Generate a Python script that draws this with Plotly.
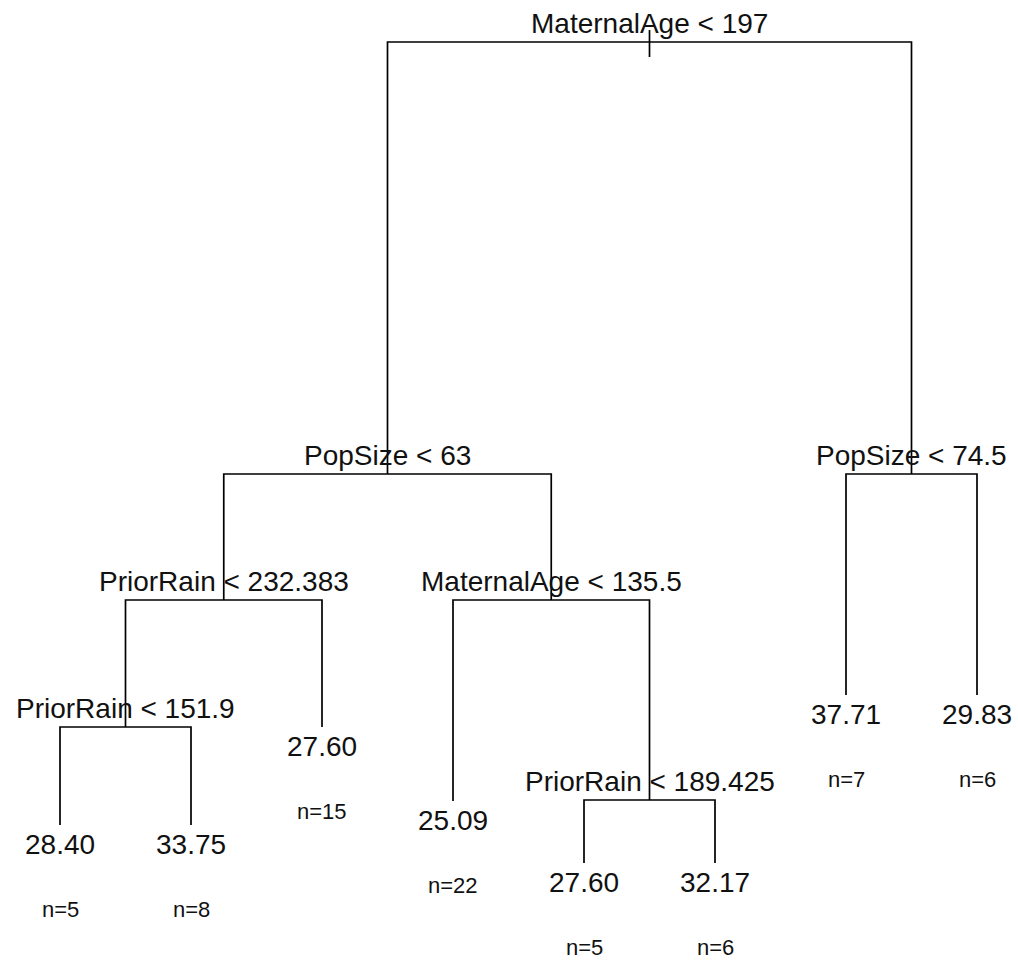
import plotly.graph_objects as go

# Tree structure (R 'tree' style node numbering)
node_id = [1, 2, 3, 4, 5, 8, 9, 16, 17, 10, 11, 22, 23, 6, 7]
node_parent = [0, 1, 1, 2, 2, 4, 4, 8, 8, 5, 5, 11, 11, 3, 3]
split_label = ["MaternalAge < 197", "PopSize < 63", "PopSize < 74.5",
               "PriorRain < 232.383", "MaternalAge < 135.5", "PriorRain < 151.9",
               "", "", "", "", "PriorRain < 189.425", "", "", "", ""]
leaf_value = ["", "", "", "", "", "", "27.60", "28.40", "33.75", "25.09", "",
              "27.60", "32.17", "37.71", "29.83"]
leaf_n = [0, 0, 0, 0, 0, 0, 15, 5, 8, 22, 0, 5, 6, 7, 6]
# node heights (deviance scale)
node_dev = [858, 426, 426, 300, 300, 173, 173, 75, 75, 99, 100, 37, 37, 205, 205]

# leaf order left to right
leaf_order = [16, 17, 9, 10, 22, 23, 6, 7]

idx = {nid: i for i, nid in enumerate(node_id)}
children = {nid: [] for nid in node_id}
for nid, par in zip(node_id, node_parent):
    if par:
        children[par].append(nid)
for k in children:
    children[k].sort()

xpos = {}
for i, nid in enumerate(leaf_order):
    xpos[nid] = i + 1.0


def getx(nid):
    if nid in xpos:
        return xpos[nid]
    ch = children[nid]
    xpos[nid] = sum(getx(c) for c in ch) / len(ch)
    return xpos[nid]


for nid in node_id:
    getx(nid)

lx, ly = [], []
for nid in node_id:
    ch = children[nid]
    if not ch:
        continue
    y0 = node_dev[idx[nid]]
    cl, cr = ch[0], ch[1]
    lx += [xpos[cl], xpos[cl], xpos[cr], xpos[cr], None]
    ly += [node_dev[idx[cl]], y0, y0, node_dev[idx[cr]], None]

# root stub
root = node_id[0]
lx += [xpos[root], xpos[root], None]
ly += [node_dev[idx[root]] + 12, node_dev[idx[root]] - 15, None]

fig = go.Figure()
fig.add_trace(go.Scatter(x=lx, y=ly, mode="lines",
                         line=dict(color="black", width=1.7),
                         hoverinfo="skip", showlegend=False))

FONT = "Liberation Sans, Arial, sans-serif"
ann = []
for i, nid in enumerate(node_id):
    x = xpos[nid]
    y = node_dev[i]
    if split_label[i]:
        ann.append(dict(x=x, y=y, text=split_label[i], showarrow=False,
                        xanchor="center", yanchor="bottom", yshift=1,
                        font=dict(family=FONT, size=28, color="#111")))
    if leaf_value[i]:
        ann.append(dict(x=x, y=y, text=leaf_value[i], showarrow=False,
                        xanchor="center", yanchor="middle", yshift=-19,
                        font=dict(family=FONT, size=28, color="#111")))
        ann.append(dict(x=x, y=y, text="n=%d" % leaf_n[i], showarrow=False,
                        xanchor="center", yanchor="middle", yshift=-84,
                        font=dict(family=FONT, size=22, color="#111")))

W, H = 1018, 967
fig.update_layout(
    width=W, height=H, autosize=False,
    margin=dict(l=0, r=0, t=0, b=0),
    paper_bgcolor="white", plot_bgcolor="white",
    xaxis=dict(range=[1 - 60 / 131, 1 + (W - 60) / 131],
               visible=False, fixedrange=True),
    yaxis=dict(range=[900 - H, 900], visible=False, fixedrange=True),
    annotations=ann,
)

fig.write_html(
    "out.html",
    config={"displayModeBar": False, "staticPlot": True},
    post_script="document.body.style.margin='0';document.body.style.overflow='hidden';",
)
